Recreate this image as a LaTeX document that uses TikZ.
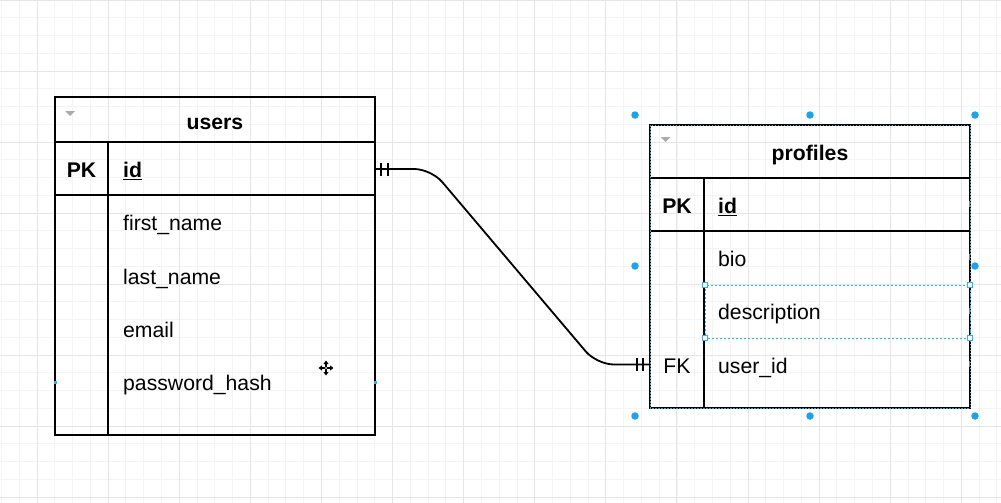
\documentclass[tikz,border=0pt]{standalone}
\usepackage{fontspec}
\setmainfont{Liberation Sans}
\usetikzlibrary{calc,arrows.meta}
\definecolor{gridminor}{HTML}{F4F4F4}
\definecolor{gridmajor}{HTML}{E6E6E6}
\definecolor{selblue}{HTML}{29B6F2}
\definecolor{handleblue}{HTML}{1CA3EC}
\newcommand\erfont{\fontsize{21.2}{25}\selectfont}
\tikzset{
  tblline/.style={line width=1.8pt, black},
  conn/.style={line width=1.8pt, black},
  txt/.style={font=\erfont, inner sep=0pt, anchor=base west},
  ctxt/.style={font=\erfont, inner sep=0pt, anchor=base},
  btxt/.style={font=\erfont\bfseries, inner sep=0pt, anchor=base},
  bltxt/.style={font=\erfont\bfseries, inner sep=0pt, anchor=base west},
  cellbox/.style={rectangle, inner sep=0pt, draw=none},
  handle/.style={circle, fill=handleblue, inner sep=0pt, minimum size=7.5pt},
  sq/.style={rectangle, draw=selblue, fill=white, line width=0.6pt, inner sep=0pt, minimum size=5pt},
  tick/.style={gray, line width=0.8pt},
  tri/.style={fill=gray!65},
}
\begin{document}
\begin{tikzpicture}[x=1pt,y=-1pt]
\useasboundingbox (0,0) rectangle (1001,503);
\fill[white] (0,0) rectangle (1001,503);
% grid
\foreach \i in {-2,...,54} { \draw[gridminor, line width=0.8pt] ({37+17.775*\i},0) -- ({37+17.775*\i},503); }
\foreach \j in {0,...,28} { \draw[gridminor, line width=0.8pt] (0,{17.75*\j}) -- (1001,{17.75*\j}); }
\foreach \i in {0,...,13} { \draw[gridmajor, line width=0.9pt] ({37+71.1*\i},0) -- ({37+71.1*\i},503); }
\foreach \j in {0,...,7} { \draw[gridmajor, line width=0.9pt] (0,{71*\j}) -- (1001,{71*\j}); }

% ---------- users table ----------
\node[cellbox, minimum width=320pt, minimum height=338pt] (users) at (215,266) {};
\draw[tblline] (55,97) rectangle (375,435);
\draw[tblline] (55,142) -- (375,142);
\draw[tblline] (55,195) -- (375,195);
\draw[tblline] (108,142) -- (108,435);
\fill[tri] (65,111) -- (75,111) -- (70,116) -- cycle;
\node[btxt] (usersT) at (215,129.5) {users};
\node[btxt] (upk) at (81.5,177.5) {PK};
\node[cellbox, minimum width=267pt, minimum height=53pt] (uidrow) at (241.5,169) {};
\node[bltxt] (uid) at (123,177.5) {\underline{id}};
\node[txt] (ufn) at (123,230.5) {first\_name};
\node[txt] (uln) at (123,284.5) {last\_name};
\node[txt] (uem) at (123,337.5) {email};
\node[txt] (uph) at (123,390.5) {password\_hash};
\fill[selblue] (53.5,380.5) rectangle (56.5,383.5);
\fill[selblue] (373.5,380.5) rectangle (376.5,383.5);

% ---------- profiles table ----------
\node[cellbox, minimum width=320pt, minimum height=283pt] (profiles) at (810,266.5) {};
\draw[tblline] (650,178) -- (970,178);
\draw[tblline] (650,231) -- (970,231);
\draw[tblline] (704,178) -- (704,408);
\draw[tblline] (650,125) rectangle (970,408);
\draw[selblue!60!gray, line width=0.7pt, dash pattern=on 1.5pt off 1.5pt] (650,125) rectangle (970,408);
\fill[tri] (660.5,137) -- (670.5,137) -- (665.5,142) -- cycle;
\node[btxt] (profT) at (810,160.5) {profiles};
\node[btxt] (ppk) at (677,213.5) {PK};
\node[bltxt] (pid) at (718,213.5) {\underline{id}};
\node[txt] (pbio) at (718,266.5) {bio};
\node[txt] (pdesc) at (718,319.5) {description};
\node[cellbox, minimum width=54pt, minimum height=53pt] (pfk) at (677,364.5) {};
\node[ctxt] (pfkT) at (677,373.5) {FK};
\node[txt] (puid) at (718,373.5) {user\_id};
% row resize ticks
\foreach \y in {204,257,311,364} { \draw[tick] (969,\y-3) -- (969,\y+3); }
% selected row
\draw[selblue, line width=0.8pt, dash pattern=on 2pt off 2pt] (705,285) rectangle (970,338);
\node[sq] (s1) at (705,285) {};
\node[sq] (s2) at (970,285) {};
\node[sq] (s3) at (705,338) {};
\node[sq] (s4) at (970,338) {};
% selection handles
\node[handle] (h1) at (635,115) {};
\node[handle] (h2) at (810,115) {};
\node[handle] (h3) at (975,115) {};
\node[handle] (h4) at (635,266) {};
\node[handle] (h5) at (975,266) {};
\node[handle] (h6) at (635,416) {};
\node[handle] (h7) at (810,416) {};
\node[handle] (h8) at (975,416) {};

% ---------- connector ----------
\draw[conn, rounded corners=17pt] (uidrow.east) -- ($(uidrow.east)+(56,0)$) -- ($(pfk.west)+(-53,0)$) -- (pfk.west);
\draw[conn, line width=1.6pt] ($(uidrow.east)+(6,-6.5)$) -- ++(0,13);
\draw[conn, line width=1.6pt] ($(uidrow.east)+(13,-6.5)$) -- ++(0,13);
\draw[conn, line width=1.6pt] ($(pfk.west)+(-13,-6.5)$) -- ++(0,13);
\draw[conn, line width=1.6pt] ($(pfk.west)+(-7,-6.5)$) -- ++(0,13);

% ---------- move cursor ----------
\coordinate (cur) at (326,368);
\foreach \a in {0,90,180,270} {
  \draw[white, line width=3pt] (cur) -- ++(\a:7);
}
\foreach \a in {0,90,180,270} {
  \draw[black, line width=1.4pt, -{Triangle[length=3.5pt,width=5pt]}] (cur) -- ++(\a:7.5);
}
\fill[gray!60] (cur) circle (1.3pt);
\end{tikzpicture}
\end{document}
